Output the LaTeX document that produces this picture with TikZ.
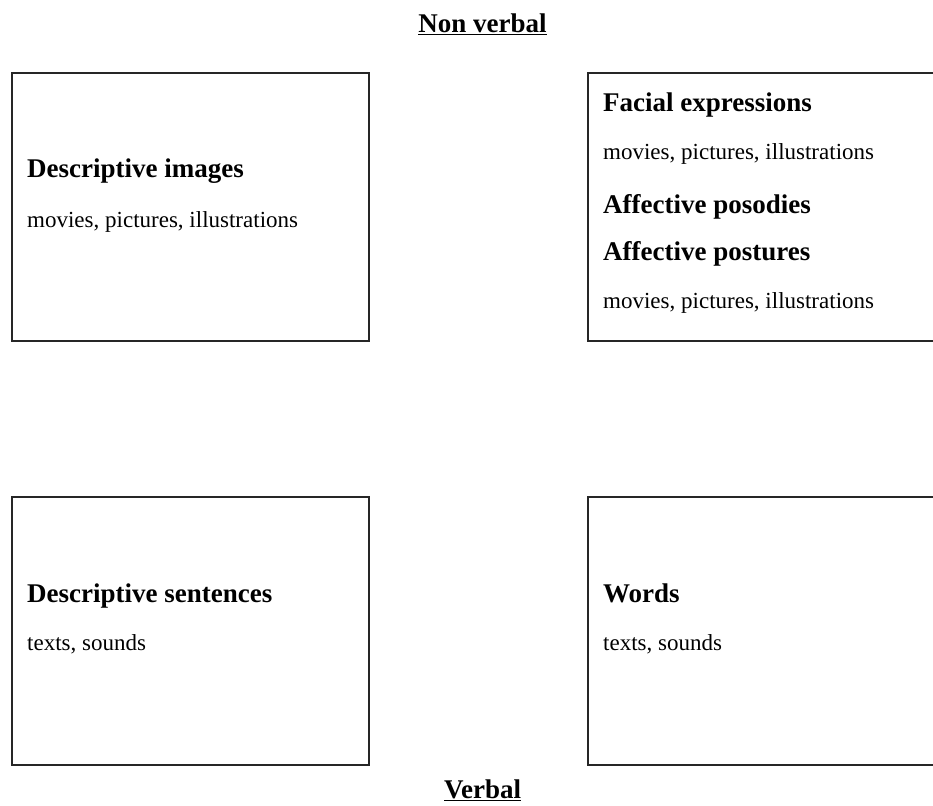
\documentclass[tikz,border=0pt]{standalone}
\usepackage{fontspec}
\setmainfont{Liberation Serif}
\begin{document}
\begin{tikzpicture}[
        x=1pt, y=-1pt,
        box/.style={draw=black!85, line width=1.6pt, inner sep=0pt, anchor=north west,
            minimum height=268pt},
        head/.style={anchor=base west, inner sep=0pt, font=\fontsize{27}{32}\selectfont\bfseries},
        media/.style={anchor=base west, inner sep=0pt, font=\fontsize{23}{28}\selectfont},
        title/.style={anchor=base, inner sep=0pt, font=\fontsize{27}{32}\selectfont\bfseries}
    ]

    \useasboundingbox (0,0) rectangle (933,805);
    \clip (0,0) rectangle (933,805);

    \def\xl{27}
    \def\xr{603}

    \node[title] (NV) at (482.5,33) {\underline{Non verbal}};
    \node[title] (V) at (482.5,798) {\underline{Verbal}};

    \node[box, minimum width=357pt] (Img) at (11,72) {};
    \node[box, minimum width=360pt] (Aff) at (587,72) {};
    \node[box, minimum width=357pt] (Sen) at (11,496) {};
    \node[box, minimum width=360pt] (Wrd) at (587,496) {};

    \node[head] (ImgH) at (\xl,177) {Descriptive images};
    \node[media] (ImgM) at (\xl,227) {movies, pictures, illustrations};

    \node[head] (FacH) at (\xr,112) {Facial expressions};
    \node[media] (FacM) at (\xr,160) {movies, pictures, illustrations};
    \node[head] (PosH) at (\xr,213) {Affective posodies};
    \node[head] (PstH) at (\xr,260) {Affective postures};
    \node[media] (PstM) at (\xr,308) {movies, pictures, illustrations};

    \node[head] (SenH) at (\xl,602) {Descriptive sentences};
    \node[media] (SenM) at (\xl,650) {texts, sounds};

    \node[head] (WrdH) at (\xr,602) {Words};
    \node[media] (WrdM) at (\xr,650) {texts, sounds};
\end{tikzpicture}
\end{document}
